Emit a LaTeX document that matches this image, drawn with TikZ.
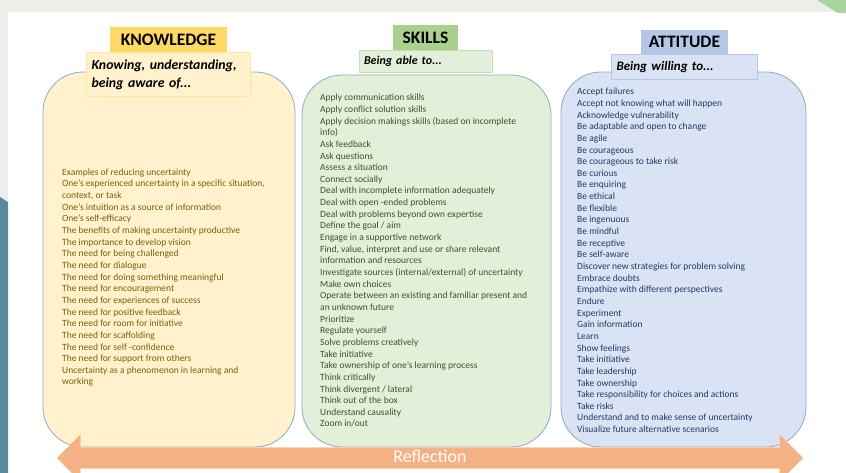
\documentclass[tikz,border=0pt]{standalone}
\usepackage{fontspec}
\setmainfont{Carlito}
\usepackage{tikz}
\usetikzlibrary{positioning,shapes.arrows}
\definecolor{bggrey}{RGB}{237,238,233}
\definecolor{bgteal}{RGB}{90,138,158}
\definecolor{bggreen}{RGB}{168,213,160}
\definecolor{colline}{RGB}{143,170,200}
\definecolor{kgold}{RGB}{255,217,102}
\definecolor{kpale}{RGB}{255,242,204}
\definecolor{kline}{RGB}{255,230,153}
\definecolor{ktext}{RGB}{122,96,10}
\definecolor{sgreen}{RGB}{169,209,142}
\definecolor{spale}{RGB}{226,240,217}
\definecolor{sline}{RGB}{197,224,180}
\definecolor{stext}{RGB}{56,87,35}
\definecolor{ablue}{RGB}{180,199,231}
\definecolor{apale}{RGB}{218,227,243}
\definecolor{aline}{RGB}{180,199,231}
\definecolor{atext}{RGB}{36,58,104}
\definecolor{reflfill}{RGB}{244,177,131}
\definecolor{reflline}{RGB}{248,203,173}

\begin{document}
\begin{tikzpicture}[
    x=1pt, y=-1pt,
    column/.style={draw=colline, line width=0.8pt, rounded corners=40pt, minimum width=#1, minimum height=375pt, inner sep=0pt},
    head/.style={inner sep=0pt, minimum height=25pt, font=\fontsize{17.5}{20}\selectfont\bfseries},
    sub/.style={draw, line width=0.6pt, inner xsep=5pt, inner ysep=0pt, text width=#1, align=left},
    items/.style={anchor=north west, inner sep=0pt, align=left, font=\fontsize{9.5}{11.65}\selectfont},
    reflect/.style={double arrow, double arrow head extend=13pt, draw=reflline, fill=reflfill, line width=0.6pt, minimum height=746pt, minimum width=46pt, text height=12.5pt, text depth=3.5pt, inner ysep=2pt, text=white, font=\fontsize{18}{20}\selectfont}
]

% Background
\useasboundingbox (0,0) rectangle (846,473);
\fill[white] (0,0) rectangle (846,473);
\fill[bggrey] (0,0) rectangle (846,12);
\fill[bggrey] (0,12) rectangle (8,200);
\fill[bgteal] (0,197) -- (8,202) -- (8,473) -- (0,473) -- cycle;
\fill[bggreen] (817,0) -- (846,0) -- (846,13) -- (838,13) -- cycle;

% Columns
\node[column=252pt, fill=kpale] (kbox) at (169,259.5) {};
\node[column=249pt, fill=spale, minimum height=372pt] (sbox) at (426.5,261) {};
\node[column=245pt, fill=apale] (abox) at (683.5,259.5) {};

% Knowledge
\node[head, fill=kgold, minimum width=117pt] (khead) at (168.5,39.5) {KNOWLEDGE};
\node[sub=154pt, draw=kline, fill=kpale, minimum height=44pt, below=0pt of khead, font=\fontsize{13.8}{18}\selectfont\bfseries\itshape] (ksub) {Knowing, understanding,\\being aware of...};
\node[items, text=ktext] (ktext) at (62,168.5) {Examples of reducing uncertainty\\
One's experienced uncertainty in a specific situation,\\
context, or task\\
One's intuition as a source of information\\
One's self-efficacy\\
The benefits of making uncertainty productive\\
The importance to develop vision\\
The need for being challenged\\
The need for dialogue\\
The need for doing something meaningful\\
The need for encouragement\\
The need for experiences of success\\
The need for positive feedback\\
The need for room for initiative\\
The need for scaffolding\\
The need for self -confidence\\
The need for support from others\\
Uncertainty as a phenomenon in learning and\\
working};

% Skills
\node[head, fill=sgreen, minimum width=65pt] (shead) at (425.5,37.5) {SKILLS};
\node[sub=123pt, draw=sline, fill=spale, minimum height=22pt, below=0pt of shead, font=\fontsize{12}{14}\selectfont\bfseries\itshape] (ssub) {Being able to...};
\node[items, text=stext] (stext) at (320,94) {Apply communication skills\\
Apply conflict solution skills\\
Apply decision makings skills (based on incomplete\\
info)\\
Ask feedback\\
Ask questions\\
Assess a situation\\
Connect socially\\
Deal with incomplete information adequately\\
Deal with open -ended problems\\
Deal with problems beyond own expertise\\
Define the goal / aim\\
Engage in a supportive network\\
Find, value, interpret and use or share relevant\\
information and resources\\
Investigate sources (internal/external) of uncertainty\\
Make own choices\\
Operate between an existing and familiar present and\\
an unknown future\\
Prioritize\\
Regulate yourself\\
Solve problems creatively\\
Take initiative\\
Take ownership of one's learning process\\
Think critically\\
Think divergent / lateral\\
Think out of the box\\
Understand causality\\
Zoom in/out};

% Attitude
\node[head, fill=ablue, minimum width=87pt, minimum height=24pt] (ahead) at (684.5,42) {ATTITUDE};
\node[sub=136pt, draw=aline, fill=apale, minimum height=25pt, below=0pt of ahead, font=\fontsize{13}{15}\selectfont\bfseries\itshape] (asub) {Being willing to...};
\node[items, text=atext] (atext) at (577,88) {Accept failures\\
Accept not knowing what will happen\\
Acknowledge vulnerability\\
Be adaptable and open to change\\
Be agile\\
Be courageous\\
Be courageous to take risk\\
Be curious\\
Be enquiring\\
Be ethical\\
Be flexible\\
Be ingenuous\\
Be mindful\\
Be receptive\\
Be self-aware\\
Discover new strategies for problem solving\\
Embrace doubts\\
Empathize with different perspectives\\
Endure\\
Experiment\\
Gain information\\
Learn\\
Show feelings\\
Take initiative\\
Take leadership\\
Take ownership\\
Take responsibility for choices and actions\\
Take risks\\
Understand and to make sense of uncertainty\\
Visualize future alternative scenarios};

% Reflection
\node[reflect] (refl) at (430,458) {Reflection};

\end{tikzpicture}
\end{document}
